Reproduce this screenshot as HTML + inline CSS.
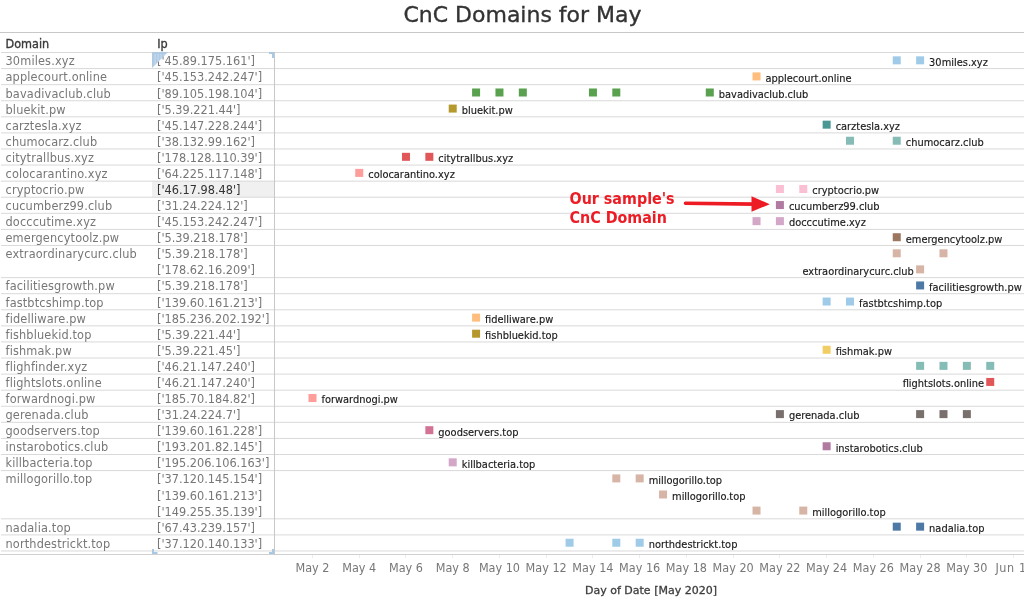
<!DOCTYPE html>
<html><head><meta charset="utf-8"><title>CnC Domains for May</title>
<style>
html,body{margin:0;padding:0;background:#fff;}
body{width:1024px;height:603px;overflow:hidden;position:relative;font-family:"DejaVu Sans","Liberation Sans",sans-serif;}
.t{position:absolute;white-space:nowrap;}
.c{font-family:"DejaVu Sans Condensed","DejaVu Sans","Liberation Sans",sans-serif;font-stretch:condensed;}
.cell{font-size:12.60px;line-height:12.60px;color:#777;}
.lab{font-size:9.85px;line-height:9.85px;color:#1a1a1a;-webkit-text-stroke:0.15px #1a1a1a;}
.hl{position:absolute;background:#d9d9d9;height:1px;}
.mk{position:absolute;width:8px;height:8px;}
</style></head><body>

<div class="t" style="left:0;width:1045px;text-align:center;top:4.39px;font-size:22px;line-height:22px;color:#333;-webkit-text-stroke:0.35px #333;">CnC Domains for May</div>
<div class="hl" style="left:0;top:32px;width:1024px;background:#c8c8c8;"></div>
<div class="t c" style="left:5.5px;top:37.53px;font-size:12.5px;line-height:12.5px;color:#3a3a3a;-webkit-text-stroke:0.35px #3a3a3a;">Domain</div>
<div class="t c" style="left:157.3px;top:37.53px;font-size:12.5px;line-height:12.5px;color:#3a3a3a;-webkit-text-stroke:0.35px #3a3a3a;">Ip</div>
<div style="position:absolute;left:152px;top:181.24px;width:122px;height:15.48px;background:#f0f0f0;"></div>
<svg style="position:absolute;left:0;top:0" width="1024" height="603" shape-rendering="auto">
<rect x="1" y="52.00" width="1023" height="1" fill="#d9d9d9"/>
<rect x="1" y="68.08" width="1023" height="1" fill="#d9d9d9"/>
<rect x="1" y="84.16" width="1023" height="1" fill="#d9d9d9"/>
<rect x="1" y="100.24" width="1023" height="1" fill="#d9d9d9"/>
<rect x="1" y="116.32" width="1023" height="1" fill="#d9d9d9"/>
<rect x="1" y="132.40" width="1023" height="1" fill="#d9d9d9"/>
<rect x="1" y="148.48" width="1023" height="1" fill="#d9d9d9"/>
<rect x="1" y="164.56" width="1023" height="1" fill="#d9d9d9"/>
<rect x="1" y="180.64" width="1023" height="1" fill="#d9d9d9"/>
<rect x="1" y="196.72" width="1023" height="1" fill="#d9d9d9"/>
<rect x="1" y="212.80" width="1023" height="1" fill="#d9d9d9"/>
<rect x="1" y="228.88" width="1023" height="1" fill="#d9d9d9"/>
<rect x="1" y="244.96" width="1023" height="1" fill="#d9d9d9"/>
<rect x="1" y="277.12" width="1023" height="1" fill="#d9d9d9"/>
<rect x="1" y="293.20" width="1023" height="1" fill="#d9d9d9"/>
<rect x="1" y="309.28" width="1023" height="1" fill="#d9d9d9"/>
<rect x="1" y="325.36" width="1023" height="1" fill="#d9d9d9"/>
<rect x="1" y="341.44" width="1023" height="1" fill="#d9d9d9"/>
<rect x="1" y="357.52" width="1023" height="1" fill="#d9d9d9"/>
<rect x="1" y="373.60" width="1023" height="1" fill="#d9d9d9"/>
<rect x="1" y="389.68" width="1023" height="1" fill="#d9d9d9"/>
<rect x="1" y="405.76" width="1023" height="1" fill="#d9d9d9"/>
<rect x="1" y="421.84" width="1023" height="1" fill="#d9d9d9"/>
<rect x="1" y="437.92" width="1023" height="1" fill="#d9d9d9"/>
<rect x="1" y="454.00" width="1023" height="1" fill="#d9d9d9"/>
<rect x="1" y="470.08" width="1023" height="1" fill="#d9d9d9"/>
<rect x="1" y="518.32" width="1023" height="1" fill="#d9d9d9"/>
<rect x="1" y="534.40" width="1023" height="1" fill="#d9d9d9"/>
<rect x="1" y="550.48" width="1023" height="1" fill="#d9d9d9"/>
<rect x="0" y="554" width="1024" height="1" fill="#d0d0d0"/>
<rect x="274" y="52" width="1" height="503" fill="#c8c8c8"/>
<rect x="892.75" y="56.34" width="8" height="8" fill="#a0cbe8"/>
<rect x="916.12" y="56.34" width="8" height="8" fill="#a0cbe8"/>
<rect x="752.53" y="72.42" width="8" height="8" fill="#ffbe7d"/>
<rect x="472.09" y="88.50" width="8" height="8" fill="#59a14f"/>
<rect x="495.46" y="88.50" width="8" height="8" fill="#59a14f"/>
<rect x="518.83" y="88.50" width="8" height="8" fill="#59a14f"/>
<rect x="588.94" y="88.50" width="8" height="8" fill="#59a14f"/>
<rect x="612.31" y="88.50" width="8" height="8" fill="#59a14f"/>
<rect x="705.79" y="88.50" width="8" height="8" fill="#59a14f"/>
<rect x="448.72" y="104.58" width="8" height="8" fill="#b6992d"/>
<rect x="822.64" y="120.66" width="8" height="8" fill="#499894"/>
<rect x="846.01" y="136.74" width="8" height="8" fill="#86bcb6"/>
<rect x="892.75" y="136.74" width="8" height="8" fill="#86bcb6"/>
<rect x="401.98" y="152.82" width="8" height="8" fill="#e15759"/>
<rect x="425.35" y="152.82" width="8" height="8" fill="#e15759"/>
<rect x="355.24" y="168.90" width="8" height="8" fill="#ff9d9a"/>
<rect x="775.90" y="184.98" width="8" height="8" fill="#fabfd2"/>
<rect x="799.27" y="184.98" width="8" height="8" fill="#fabfd2"/>
<rect x="775.90" y="201.06" width="8" height="8" fill="#b07aa1"/>
<rect x="752.53" y="217.14" width="8" height="8" fill="#d4a6c8"/>
<rect x="775.90" y="217.14" width="8" height="8" fill="#d4a6c8"/>
<rect x="892.75" y="233.22" width="8" height="8" fill="#9d7660"/>
<rect x="892.75" y="249.30" width="8" height="8" fill="#d7b5a6"/>
<rect x="939.49" y="249.30" width="8" height="8" fill="#d7b5a6"/>
<rect x="916.12" y="265.38" width="8" height="8" fill="#d7b5a6"/>
<rect x="916.12" y="281.46" width="8" height="8" fill="#4e79a7"/>
<rect x="822.64" y="297.54" width="8" height="8" fill="#a0cbe8"/>
<rect x="846.01" y="297.54" width="8" height="8" fill="#a0cbe8"/>
<rect x="472.09" y="313.62" width="8" height="8" fill="#ffbe7d"/>
<rect x="472.09" y="329.70" width="8" height="8" fill="#b6992d"/>
<rect x="822.64" y="345.78" width="8" height="8" fill="#f1ce63"/>
<rect x="916.12" y="361.86" width="8" height="8" fill="#86bcb6"/>
<rect x="939.49" y="361.86" width="8" height="8" fill="#86bcb6"/>
<rect x="962.86" y="361.86" width="8" height="8" fill="#86bcb6"/>
<rect x="986.23" y="361.86" width="8" height="8" fill="#86bcb6"/>
<rect x="986.23" y="377.94" width="8" height="8" fill="#e15759"/>
<rect x="308.50" y="394.02" width="8" height="8" fill="#ff9d9a"/>
<rect x="775.90" y="410.10" width="8" height="8" fill="#79706e"/>
<rect x="916.12" y="410.10" width="8" height="8" fill="#79706e"/>
<rect x="939.49" y="410.10" width="8" height="8" fill="#79706e"/>
<rect x="962.86" y="410.10" width="8" height="8" fill="#79706e"/>
<rect x="425.35" y="426.18" width="8" height="8" fill="#d37295"/>
<rect x="822.64" y="442.26" width="8" height="8" fill="#b07aa1"/>
<rect x="448.72" y="458.34" width="8" height="8" fill="#d4a6c8"/>
<rect x="612.31" y="474.42" width="8" height="8" fill="#d7b5a6"/>
<rect x="635.68" y="474.42" width="8" height="8" fill="#d7b5a6"/>
<rect x="659.05" y="490.50" width="8" height="8" fill="#d7b5a6"/>
<rect x="752.53" y="506.58" width="8" height="8" fill="#d7b5a6"/>
<rect x="799.27" y="506.58" width="8" height="8" fill="#d7b5a6"/>
<rect x="892.75" y="522.66" width="8" height="8" fill="#4e79a7"/>
<rect x="916.12" y="522.66" width="8" height="8" fill="#4e79a7"/>
<rect x="565.57" y="538.74" width="8" height="8" fill="#a0cbe8"/>
<rect x="612.31" y="538.74" width="8" height="8" fill="#a0cbe8"/>
<rect x="635.68" y="538.74" width="8" height="8" fill="#a0cbe8"/>
<path d="M269 52H274V58H272V54H269Z" fill="#a9c8e3"/>
<path d="M152 549H154V552H157.5V554H152Z" fill="#a9c8e3"/>
<path d="M272 549H274V554H269V552H272Z" fill="#a9c8e3"/>
</svg>
<div class="t c cell" style="left:5.5px;top:55.34px;letter-spacing:0.15px;">30miles.xyz</div>
<div class="t c cell" style="left:157px;top:55.34px;">[&#39;45.89.175.161&#39;]</div>
<div class="t c cell" style="left:5.5px;top:71.42px;letter-spacing:0.15px;">applecourt.online</div>
<div class="t c cell" style="left:157px;top:71.42px;">[&#39;45.153.242.247&#39;]</div>
<div class="t c cell" style="left:5.5px;top:87.50px;letter-spacing:0.15px;">bavadivaclub.club</div>
<div class="t c cell" style="left:157px;top:87.50px;">[&#39;89.105.198.104&#39;]</div>
<div class="t c cell" style="left:5.5px;top:103.58px;letter-spacing:0.15px;">bluekit.pw</div>
<div class="t c cell" style="left:157px;top:103.58px;">[&#39;5.39.221.44&#39;]</div>
<div class="t c cell" style="left:5.5px;top:119.66px;letter-spacing:0.15px;">carztesla.xyz</div>
<div class="t c cell" style="left:157px;top:119.66px;">[&#39;45.147.228.244&#39;]</div>
<div class="t c cell" style="left:5.5px;top:135.74px;letter-spacing:0.15px;">chumocarz.club</div>
<div class="t c cell" style="left:157px;top:135.74px;">[&#39;38.132.99.162&#39;]</div>
<div class="t c cell" style="left:5.5px;top:151.82px;letter-spacing:0.15px;">citytrallbus.xyz</div>
<div class="t c cell" style="left:157px;top:151.82px;">[&#39;178.128.110.39&#39;]</div>
<div class="t c cell" style="left:5.5px;top:167.90px;letter-spacing:0.15px;">colocarantino.xyz</div>
<div class="t c cell" style="left:157px;top:167.90px;">[&#39;64.225.117.148&#39;]</div>
<div class="t c cell" style="left:5.5px;top:183.98px;letter-spacing:0.15px;">cryptocrio.pw</div>
<div class="t c cell" style="left:157px;top:183.98px;color:#333;">[&#39;46.17.98.48&#39;]</div>
<div class="t c cell" style="left:5.5px;top:200.06px;letter-spacing:0.15px;">cucumberz99.club</div>
<div class="t c cell" style="left:157px;top:200.06px;">[&#39;31.24.224.12&#39;]</div>
<div class="t c cell" style="left:5.5px;top:216.14px;letter-spacing:0.15px;">docccutime.xyz</div>
<div class="t c cell" style="left:157px;top:216.14px;">[&#39;45.153.242.247&#39;]</div>
<div class="t c cell" style="left:5.5px;top:232.22px;letter-spacing:0.15px;">emergencytoolz.pw</div>
<div class="t c cell" style="left:157px;top:232.22px;">[&#39;5.39.218.178&#39;]</div>
<div class="t c cell" style="left:5.5px;top:248.30px;letter-spacing:0.15px;">extraordinarycurc.club</div>
<div class="t c cell" style="left:157px;top:248.30px;">[&#39;5.39.218.178&#39;]</div>
<div class="t c cell" style="left:157px;top:264.38px;">[&#39;178.62.16.209&#39;]</div>
<div class="t c cell" style="left:5.5px;top:280.46px;letter-spacing:0.15px;">facilitiesgrowth.pw</div>
<div class="t c cell" style="left:157px;top:280.46px;">[&#39;5.39.218.178&#39;]</div>
<div class="t c cell" style="left:5.5px;top:296.54px;letter-spacing:0.15px;">fastbtcshimp.top</div>
<div class="t c cell" style="left:157px;top:296.54px;">[&#39;139.60.161.213&#39;]</div>
<div class="t c cell" style="left:5.5px;top:312.62px;letter-spacing:0.15px;">fidelliware.pw</div>
<div class="t c cell" style="left:157px;top:312.62px;">[&#39;185.236.202.192&#39;]</div>
<div class="t c cell" style="left:5.5px;top:328.70px;letter-spacing:0.15px;">fishbluekid.top</div>
<div class="t c cell" style="left:157px;top:328.70px;">[&#39;5.39.221.44&#39;]</div>
<div class="t c cell" style="left:5.5px;top:344.78px;letter-spacing:0.15px;">fishmak.pw</div>
<div class="t c cell" style="left:157px;top:344.78px;">[&#39;5.39.221.45&#39;]</div>
<div class="t c cell" style="left:5.5px;top:360.86px;letter-spacing:0.15px;">flighfinder.xyz</div>
<div class="t c cell" style="left:157px;top:360.86px;">[&#39;46.21.147.240&#39;]</div>
<div class="t c cell" style="left:5.5px;top:376.94px;letter-spacing:0.15px;">flightslots.online</div>
<div class="t c cell" style="left:157px;top:376.94px;">[&#39;46.21.147.240&#39;]</div>
<div class="t c cell" style="left:5.5px;top:393.02px;letter-spacing:0.15px;">forwardnogi.pw</div>
<div class="t c cell" style="left:157px;top:393.02px;">[&#39;185.70.184.82&#39;]</div>
<div class="t c cell" style="left:5.5px;top:409.10px;letter-spacing:0.15px;">gerenada.club</div>
<div class="t c cell" style="left:157px;top:409.10px;">[&#39;31.24.224.7&#39;]</div>
<div class="t c cell" style="left:5.5px;top:425.18px;letter-spacing:0.15px;">goodservers.top</div>
<div class="t c cell" style="left:157px;top:425.18px;">[&#39;139.60.161.228&#39;]</div>
<div class="t c cell" style="left:5.5px;top:441.26px;letter-spacing:0.15px;">instarobotics.club</div>
<div class="t c cell" style="left:157px;top:441.26px;">[&#39;193.201.82.145&#39;]</div>
<div class="t c cell" style="left:5.5px;top:457.34px;letter-spacing:0.15px;">killbacteria.top</div>
<div class="t c cell" style="left:157px;top:457.34px;">[&#39;195.206.106.163&#39;]</div>
<div class="t c cell" style="left:5.5px;top:473.42px;letter-spacing:0.15px;">millogorillo.top</div>
<div class="t c cell" style="left:157px;top:473.42px;">[&#39;37.120.145.154&#39;]</div>
<div class="t c cell" style="left:157px;top:489.50px;">[&#39;139.60.161.213&#39;]</div>
<div class="t c cell" style="left:157px;top:505.58px;">[&#39;149.255.35.139&#39;]</div>
<div class="t c cell" style="left:5.5px;top:521.66px;letter-spacing:0.15px;">nadalia.top</div>
<div class="t c cell" style="left:157px;top:521.66px;">[&#39;67.43.239.157&#39;]</div>
<div class="t c cell" style="left:5.5px;top:537.74px;letter-spacing:0.15px;">northdestrickt.top</div>
<div class="t c cell" style="left:157px;top:537.74px;">[&#39;37.120.140.133&#39;]</div>
<svg style="position:absolute;left:152px;top:52px" width="16" height="16"><defs><clipPath id="tri"><polygon points="0,0 16,0 0,16"/></clipPath></defs><polygon points="0,0 16,0 0,16" fill="#afcbe4"/><g clip-path="url(#tri)" fill="#c6dbed"><rect x="2.5" y="2" width="1.2" height="14"/><rect x="5.5" y="2" width="1.2" height="14"/><rect x="8.5" y="2" width="1.2" height="14"/><rect x="11.5" y="2" width="1.2" height="14"/></g></svg>
<div class="t lab" style="left:929.12px;top:57.67px;">30miles.xyz</div>
<div class="t lab" style="left:765.53px;top:73.75px;">applecourt.online</div>
<div class="t lab" style="left:718.79px;top:89.83px;">bavadivaclub.club</div>
<div class="t lab" style="left:461.72px;top:105.91px;">bluekit.pw</div>
<div class="t lab" style="left:835.64px;top:121.99px;">carztesla.xyz</div>
<div class="t lab" style="left:905.75px;top:138.07px;">chumocarz.club</div>
<div class="t lab" style="left:438.35px;top:154.15px;">citytrallbus.xyz</div>
<div class="t lab" style="left:368.24px;top:170.23px;">colocarantino.xyz</div>
<div class="t lab" style="left:812.27px;top:186.31px;">cryptocrio.pw</div>
<div class="t lab" style="left:788.90px;top:202.39px;">cucumberz99.club</div>
<div class="t lab" style="left:788.90px;top:218.47px;">docccutime.xyz</div>
<div class="t lab" style="left:905.75px;top:234.55px;">emergencytoolz.pw</div>
<div class="t lab" style="right:110.18px;top:266.71px;">extraordinarycurc.club</div>
<div class="t lab" style="left:929.12px;top:282.79px;">facilitiesgrowth.pw</div>
<div class="t lab" style="left:859.01px;top:298.87px;">fastbtcshimp.top</div>
<div class="t lab" style="left:485.09px;top:314.95px;">fidelliware.pw</div>
<div class="t lab" style="left:485.09px;top:331.03px;">fishbluekid.top</div>
<div class="t lab" style="left:835.64px;top:347.11px;">fishmak.pw</div>
<div class="t lab" style="right:40.07px;top:379.27px;">flightslots.online</div>
<div class="t lab" style="left:321.50px;top:395.35px;">forwardnogi.pw</div>
<div class="t lab" style="left:788.90px;top:411.43px;">gerenada.club</div>
<div class="t lab" style="left:438.35px;top:427.51px;">goodservers.top</div>
<div class="t lab" style="left:835.64px;top:443.59px;">instarobotics.club</div>
<div class="t lab" style="left:461.72px;top:459.67px;">killbacteria.top</div>
<div class="t lab" style="left:648.68px;top:475.75px;">millogorillo.top</div>
<div class="t lab" style="left:672.05px;top:491.83px;">millogorillo.top</div>
<div class="t lab" style="left:812.27px;top:507.91px;">millogorillo.top</div>
<div class="t lab" style="left:929.12px;top:523.99px;">nadalia.top</div>
<div class="t lab" style="left:648.68px;top:540.07px;">northdestrickt.top</div>
<div class="t c" style="left:569.5px;top:188.80px;font-size:15.90px;line-height:19.4px;font-weight:bold;color:#ed1c24;">Our sample's<br>CnC Domain</div>
<svg style="position:absolute;left:0;top:0" width="1024" height="603"><line x1="685.5" y1="203.3" x2="755" y2="204.1" stroke="#ed1c24" stroke-width="3.6" stroke-linecap="round"/><polygon points="751.5,196.3 769.8,204.2 751.5,211.8" fill="#ed1c24"/></svg>
<div class="t c" style="left:312.50px;width:80px;margin-left:-40px;text-align:center;top:561.72px;font-size:12.5px;line-height:12.5px;color:#777;">May 2</div>
<div style="position:absolute;left:312px;top:555px;width:1px;height:3px;background:#ececec;"></div>
<div class="t c" style="left:359.24px;width:80px;margin-left:-40px;text-align:center;top:561.72px;font-size:12.5px;line-height:12.5px;color:#777;">May 4</div>
<div style="position:absolute;left:359px;top:555px;width:1px;height:3px;background:#ececec;"></div>
<div class="t c" style="left:405.98px;width:80px;margin-left:-40px;text-align:center;top:561.72px;font-size:12.5px;line-height:12.5px;color:#777;">May 6</div>
<div style="position:absolute;left:405px;top:555px;width:1px;height:3px;background:#ececec;"></div>
<div class="t c" style="left:452.72px;width:80px;margin-left:-40px;text-align:center;top:561.72px;font-size:12.5px;line-height:12.5px;color:#777;">May 8</div>
<div style="position:absolute;left:452px;top:555px;width:1px;height:3px;background:#ececec;"></div>
<div class="t c" style="left:499.46px;width:80px;margin-left:-40px;text-align:center;top:561.72px;font-size:12.5px;line-height:12.5px;color:#777;">May 10</div>
<div style="position:absolute;left:499px;top:555px;width:1px;height:3px;background:#ececec;"></div>
<div class="t c" style="left:546.20px;width:80px;margin-left:-40px;text-align:center;top:561.72px;font-size:12.5px;line-height:12.5px;color:#777;">May 12</div>
<div style="position:absolute;left:546px;top:555px;width:1px;height:3px;background:#ececec;"></div>
<div class="t c" style="left:592.94px;width:80px;margin-left:-40px;text-align:center;top:561.72px;font-size:12.5px;line-height:12.5px;color:#777;">May 14</div>
<div style="position:absolute;left:592px;top:555px;width:1px;height:3px;background:#ececec;"></div>
<div class="t c" style="left:639.68px;width:80px;margin-left:-40px;text-align:center;top:561.72px;font-size:12.5px;line-height:12.5px;color:#777;">May 16</div>
<div style="position:absolute;left:639px;top:555px;width:1px;height:3px;background:#ececec;"></div>
<div class="t c" style="left:686.42px;width:80px;margin-left:-40px;text-align:center;top:561.72px;font-size:12.5px;line-height:12.5px;color:#777;">May 18</div>
<div style="position:absolute;left:686px;top:555px;width:1px;height:3px;background:#ececec;"></div>
<div class="t c" style="left:733.16px;width:80px;margin-left:-40px;text-align:center;top:561.72px;font-size:12.5px;line-height:12.5px;color:#777;">May 20</div>
<div style="position:absolute;left:733px;top:555px;width:1px;height:3px;background:#ececec;"></div>
<div class="t c" style="left:779.90px;width:80px;margin-left:-40px;text-align:center;top:561.72px;font-size:12.5px;line-height:12.5px;color:#777;">May 22</div>
<div style="position:absolute;left:779px;top:555px;width:1px;height:3px;background:#ececec;"></div>
<div class="t c" style="left:826.64px;width:80px;margin-left:-40px;text-align:center;top:561.72px;font-size:12.5px;line-height:12.5px;color:#777;">May 24</div>
<div style="position:absolute;left:826px;top:555px;width:1px;height:3px;background:#ececec;"></div>
<div class="t c" style="left:873.38px;width:80px;margin-left:-40px;text-align:center;top:561.72px;font-size:12.5px;line-height:12.5px;color:#777;">May 26</div>
<div style="position:absolute;left:873px;top:555px;width:1px;height:3px;background:#ececec;"></div>
<div class="t c" style="left:920.12px;width:80px;margin-left:-40px;text-align:center;top:561.72px;font-size:12.5px;line-height:12.5px;color:#777;">May 28</div>
<div style="position:absolute;left:920px;top:555px;width:1px;height:3px;background:#ececec;"></div>
<div class="t c" style="left:966.86px;width:80px;margin-left:-40px;text-align:center;top:561.72px;font-size:12.5px;line-height:12.5px;color:#777;">May 30</div>
<div style="position:absolute;left:966px;top:555px;width:1px;height:3px;background:#ececec;"></div>
<div class="t c" style="left:1011.10px;width:80px;margin-left:-40px;text-align:center;top:561.72px;font-size:12.5px;line-height:12.5px;color:#777;letter-spacing:0.6px;">Jun 1</div>
<div style="position:absolute;left:1013px;top:555px;width:1px;height:3px;background:#ececec;"></div>
<div class="t" style="left:0;width:1302px;text-align:center;top:585.49px;font-size:11px;line-height:11px;color:#3d3d3d;-webkit-text-stroke:0.3px #3d3d3d;">Day of Date [May 2020]</div>
</body></html>
